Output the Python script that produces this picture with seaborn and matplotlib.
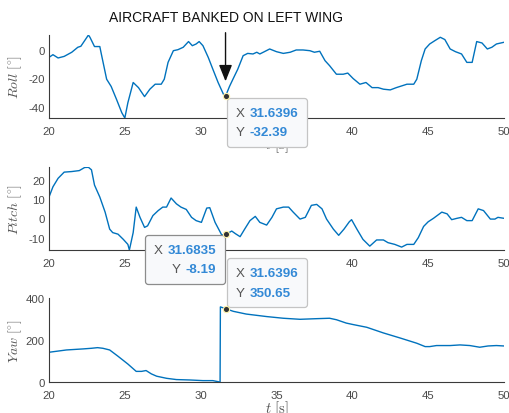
import matplotlib
matplotlib.use("Agg")
import matplotlib.pyplot as plt
import seaborn as sns
import numpy as np
from matplotlib.offsetbox import TextArea, HPacker, VPacker, AnnotationBbox

# ---- flight attitude data (time in s, angles in degrees) ----
roll_t = [20.0, 20.26, 20.6, 21.0, 21.5, 21.9, 22.1, 22.5, 22.6, 22.7, 23.0, 23.35, 23.45,
          23.8, 24.1, 24.45, 24.8, 25.0, 25.2, 25.55, 25.9, 26.3, 26.65, 27.0, 27.4, 27.6,
          27.85, 28.2, 28.5, 28.85, 29.2, 29.45, 29.7, 29.9, 30.15, 30.5, 30.8, 31.15, 31.5,
          31.6396, 31.9, 32.15, 32.45, 32.8, 33.1, 33.45, 33.7, 33.9, 34.2, 34.55, 35.0,
          35.45, 35.9, 36.3, 36.75, 37.2, 37.5, 37.85, 38.2, 38.5, 38.95, 39.4, 39.7, 40.05,
          40.5, 40.9, 41.3, 41.7, 42.05, 42.5, 42.9, 43.4, 43.6, 44.05, 44.25, 44.55, 44.8,
          45.1, 45.45, 45.8, 46.1, 46.45, 46.8, 47.2, 47.55, 47.9, 48.2, 48.55, 48.9, 49.2,
          49.5, 50.0]
roll_v = [-5.2, -3.3, -5.6, -4.5, -1.6, 1.9, 2.6, 8.9, 10.5, 8.9, 2.4, 2.4, -2.8,
          -20.5, -25.6, -34.6, -44.0, -47.7, -37.0, -22.8, -26.4, -32.7, -27.5, -24.0, -24.0, -20.5,
          -8.7, -0.5, 0.2, 1.9, 5.9, 3.0, 4.2, 5.9, 3.0, -5.2, -13.4, -22.8, -31.0,
          -32.39, -25.6, -20.0, -13.4, -4.0, -2.4, -2.8, -1.6, -2.8, -1.2, 0.7, -1.2,
          -2.4, -1.6, 0.0, 0.0, -0.5, -1.6, -0.9, -7.5, -11.0, -17.0, -17.0, -16.2, -20.0,
          -24.0, -22.8, -26.4, -26.4, -27.5, -28.0, -26.4, -24.7, -24.0, -24.0, -20.5, -7.5, 0.7,
          4.2, 6.6, 8.9, 7.3, 0.7, -1.2, -2.8, -8.7, -8.7, 5.9, 4.9, 0.7, 1.9,
          4.2, 5.4]

pitch_t = [20.0, 20.26, 20.6, 21.0, 21.5, 22.0, 22.35, 22.6, 22.8, 23.0, 23.35, 23.7, 24.0,
           24.2, 24.55, 24.9, 25.2, 25.3, 25.55, 25.75, 26.0, 26.3, 26.5, 26.85, 27.2, 27.5,
           27.75, 28.05, 28.4, 28.7, 29.05, 29.4, 29.7, 30.05, 30.4, 30.6, 30.95, 31.39,
           31.6835, 32.05, 32.3, 32.6, 32.9, 33.25, 33.6, 33.9, 34.35, 34.7, 35.0, 35.45,
           35.8, 36.1, 36.55, 36.9, 37.3, 37.65, 38.0, 38.3, 38.75, 39.1, 39.45, 39.8, 39.95,
           40.3, 40.7, 41.15, 41.6, 42.05, 42.35, 42.8, 43.25, 43.6, 44.05, 44.35, 44.7, 45.0,
           45.35, 45.9, 46.25, 46.55, 46.9, 47.2, 47.55, 47.9, 48.3, 48.65, 49.1, 49.4, 49.6,
           50.0]
pitch_v = [11.0, 16.3, 20.7, 23.9, 24.2, 24.7, 26.3, 26.4, 25.1, 17.2, 11.0, 3.2, -5.6,
           -7.4, -8.2, -10.9, -13.5, -16.4, -7.4, 5.8, 0.5, -4.7, -3.9, 1.4, 4.0, 5.8,
           5.8, 10.5, 7.5, 5.8, 4.6, 0.5, -1.2, -2.1, 5.3, 5.5, -2.1, -8.65,
           -8.19, -6.6, -8.0, -9.5, -5.6, -1.2, 1.0, -2.1, -3.5, 0.5, 4.9, 5.8,
           5.8, 3.2, -0.4, 0.5, 6.7, 7.2, 4.9, -0.4, -5.6, -8.8, -5.6, -1.8, -0.7,
           -5.6, -10.9, -14.4, -11.2, -11.2, -12.6, -13.5, -14.9, -13.5, -13.5, -10.0, -4.2, -1.8,
           0.0, 3.2, 2.3, -0.7, 0.0, 0.5, -1.2, -1.2, 4.9, 4.0, -0.4, -0.4, 0.5,
           0.0]

yaw_t = [20.0, 21.15, 22.25, 22.8, 23.2, 23.55, 24.0, 24.55, 25.2, 25.75, 26.1, 26.4, 26.75,
         27.1, 27.75, 28.4, 29.3, 30.15, 30.8, 31.15, 31.28, 31.30, 31.6396, 32.15, 33.0,
         34.35, 35.45, 36.55, 37.65, 38.5, 38.95, 39.6, 40.05, 40.95, 42.05, 43.15, 44.25,
         44.8, 45.1, 45.55, 46.45, 47.1, 47.75, 48.4, 48.95, 49.5, 50.0]
yaw_v = [143, 154, 159, 162, 165, 162, 154, 124, 87, 52, 52, 56, 40,
         29, 19, 13, 11, 8, 8, 3, 0.5, 359.0, 350.65, 338, 325,
         313, 305, 300, 303, 305, 298, 282, 275, 262, 235, 211, 186,
         170, 170, 175, 175, 178, 175, 167, 173, 175, 173]

# data tips: (time, value) shown on each panel
tip_roll = (31.6396, -32.39)
tip_pitch = (31.6835, -8.19)
tip_yaw = (31.6396, 350.65)

x_ticks = [20, 25, 30, 35, 40, 45, 50]
roll_ticks = [-40, -20, 0]
pitch_ticks = [-10, 0, 10, 20]
yaw_ticks = [0, 200, 400]

# ---- style ----
sns.set_theme(style="white")
plt.rcParams["font.family"] = ["Liberation Sans", "DejaVu Sans"]
plt.rcParams["mathtext.fontset"] = "cm"

LINE = "#0072BD"
AXC = "#3a3a3a"
LABC = "#4a4a4a"
TIPBLUE = "#3389d6"
TIPGRAY = "#555555"

W, H = 509, 414
fig = plt.figure(figsize=(W / 100, H / 100), dpi=100)

left, width = 49 / W, 455 / W
ax_roll = fig.add_axes([left, 1 - 119 / H, width, 83 / H])
ax_pitch = fig.add_axes([left, 1 - 251 / H, width, 82.7 / H])
ax_yaw = fig.add_axes([left, 1 - 383.3 / H, width, 84 / H])

panels = [
    (ax_roll, roll_t, roll_v, roll_ticks, (min(roll_v), max(roll_v)), r"$Roll\ [^{\circ}]$"),
    (ax_pitch, pitch_t, pitch_v, pitch_ticks, (min(pitch_v), max(pitch_v)), r"$Pitch\ [^{\circ}]$"),
    (ax_yaw, yaw_t, yaw_v, yaw_ticks, (0, 400), r"$Yaw\ [^{\circ}]$"),
]

for ax, t, v, yt, ylim, ylab in panels:
    sns.lineplot(x=t, y=v, ax=ax, color=LINE, lw=1.0, sort=False, estimator=None)
    ax.set_xlim(20, 50)
    ax.set_ylim(*ylim)
    ax.set_xticks(x_ticks)
    ax.set_yticks(yt)
    ax.set_xticklabels([str(x) for x in x_ticks])
    ax.set_yticklabels([str(y) for y in yt])
    for side in ("top", "right"):
        ax.spines[side].set_visible(False)
    for side in ("left", "bottom"):
        ax.spines[side].set_color(AXC)
        ax.spines[side].set_linewidth(0.8)
    ax.tick_params(axis="x", direction="in", length=3.2, width=0.8, color=AXC,
                   labelcolor=LABC, labelsize=8.2, pad=5.5)
    ax.tick_params(axis="y", direction="in", length=0, width=0.8, color=AXC,
                   labelcolor=LABC, labelsize=8.2, pad=3)
    ax.set_ylabel(ylab, fontsize=10, color="#555555")
    ax.yaxis.set_label_coords(-0.056, 0.5)
    ax.set_xlabel(r"$t\ [\mathrm{s}]$", fontsize=10.5, color="#555555", labelpad=-1)


def data_tip(ax, xy, align, box_align, offset, edge):
    rows = []
    for key, val in (("X", f"{xy[0]:.4f}"), ("Y", f"{xy[1]:.2f}")):
        rows.append(HPacker(children=[
            TextArea(key, textprops=dict(color=TIPGRAY, fontsize=9.6)),
            TextArea(val, textprops=dict(color=TIPBLUE, fontsize=9.6, fontweight="bold")),
        ], align="baseline", pad=0, sep=3.5))
    pack = VPacker(children=rows, align=align, pad=6.2, sep=5.5)
    ab = AnnotationBbox(pack, xy, xybox=offset, xycoords="data", boxcoords="offset points",
                        box_alignment=box_align, pad=0, annotation_clip=False,
                        bboxprops=dict(boxstyle="round,pad=0,rounding_size=0.2",
                                       fc="#f8f9fb", ec=edge, lw=0.9))
    ab.set_zorder(20)
    ax.add_artist(ab)
    ax.plot([xy[0]], [xy[1]], "o", ms=4.5, mfc="#333333", mec="#fff3a8", mew=0.8,
            zorder=21, clip_on=False)


data_tip(ax_roll, tip_roll, "left", (0, 1), (1.0, -1.5), "#c4c4c4")
data_tip(ax_pitch, tip_pitch, "right", (1, 1), (-1.0, -0.8), "#8c8c8c")
data_tip(ax_yaw, tip_yaw, "left", (0, 0), (1.0, 1.0), "#c4c4c4")

ax_roll.annotate("AIRCRAFT BANKED ON LEFT WING", xy=(tip_roll[0], -22.0),
                 xytext=(tip_roll[0], 23.2), textcoords="data", ha="center", va="center",
                 fontsize=10, color="#111111", annotation_clip=False,
                 arrowprops=dict(arrowstyle="-|>,head_length=1.0,head_width=0.4",
                                 color="#111111", lw=1.0, shrinkA=4, shrinkB=0))

fig.savefig("out.png", dpi=100)
